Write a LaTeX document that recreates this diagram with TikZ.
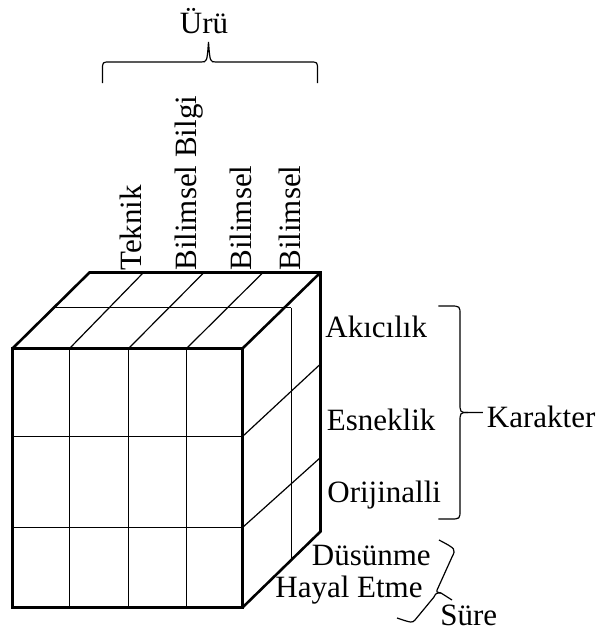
\documentclass[tikz,border=0pt]{standalone}
\usepackage{fontspec}
\setmainfont{Liberation Serif}
\usepackage{tikz}

\tikzset{
  outline/.style={line width=1.3pt, line join=miter},
  cellline/.style={line width=0.6pt},
  bracket/.style={line width=0.6pt},
  lbl/.style={inner sep=0pt, anchor=base west},
  uplbl/.style={lbl, rotate=90}
}

\begin{document}
\begin{tikzpicture}[x=0.5pt, y=-0.5pt, font=\fontsize{15.5}{18}\selectfont]
    \useasboundingbox (0,0) rectangle (601,634);

    % front face
    \draw[cellline] (69.5,348.5) -- (69.5,607.5);
    \draw[cellline] (128.5,348.5) -- (128.5,607.5);
    \draw[cellline] (186.5,348.5) -- (186.5,607.5);
    \draw[cellline] (12.5,436.5) -- (242.5,436.5);
    \draw[cellline] (12.5,527.5) -- (242.5,527.5);

    % top face
    \draw[cellline] (69.5,348.5) -- (143.5,272.5);
    \draw[cellline] (128.5,348.5) -- (204,272.5);
    \draw[cellline] (186.5,348.5) -- (263,272.5);
    \draw[cellline] (54,307.5) -- (291.5,307.5);

    % right face
    \draw[cellline] (291.5,307.5) -- (291.5,559.5);
    \draw[cellline] (242.5,436.5) -- (320.5,364);
    \draw[cellline] (242.5,527.5) -- (320.5,457.5);

    % cube edges
    \draw[outline] (12.5,348.5) rectangle (242.5,607.5);
    \draw[outline] (12.5,348.5) -- (89.5,272.5) -- (320.5,272.5) -- (320.5,531.5) -- (242.5,607.5);
    \draw[outline] (242.5,348.5) -- (320.5,272.5);

    % product labels
    \node[uplbl] (teknik) at (141.5,271) {Teknik};
    \node[uplbl] (bilgi) at (197,271) {Bilimsel Bilgi};
    \node[uplbl] (bilimsela) at (251.5,271) {Bilimsel};
    \node[uplbl] (bilimselb) at (300,271) {Bilimsel};
    \node[anchor=base, inner sep=0pt] (urun) at (204,33) {Ürü};
    \draw[bracket] (102.5,83) -- (102.5,70) .. controls (102.5,62) .. (110,62) -- (201,62)
        .. controls (207,62) .. (208.5,42) .. controls (210,62) .. (216,62)
        -- (310,62) .. controls (317.5,62) .. (317.5,70) -- (317.5,83);

    % character labels
    \node[lbl] (akicilik) at (325,337) {Akıcılık};
    \node[lbl] (esneklik) at (326.5,430) {Esneklik};
    \node[lbl] (orijinal) at (327,502) {Orijinalli};
    \node[lbl] (karakter) at (486.5,427) {Karakter};
    \draw[bracket] (438.5,306) -- (450,306) .. controls (460,306) .. (460,315) -- (460,402)
        .. controls (460,412.5) .. (468,412.5) -- (483,412.5);
    \draw[bracket] (468,412.5) .. controls (460,412.5) .. (460,423) -- (460,510)
        .. controls (460,519) .. (450,519) -- (438.5,519);

    % time labels
    \node[lbl] (dusunme) at (311.5,565) {Düsünme};
    \node[lbl] (hayal) at (275,597) {Hayal Etme};
    \node[lbl] (sure) at (440,625) {Süre};
    \draw[bracket] (439,540) .. controls (456,549) .. (452,557) -- (438,588)
        .. controls (436,592) .. (441,593) -- (452,600);
    \draw[bracket] (441,593) .. controls (436,593) .. (434,597) -- (415,620)
        .. controls (412,623) .. (397,618);
\end{tikzpicture}
\end{document}
